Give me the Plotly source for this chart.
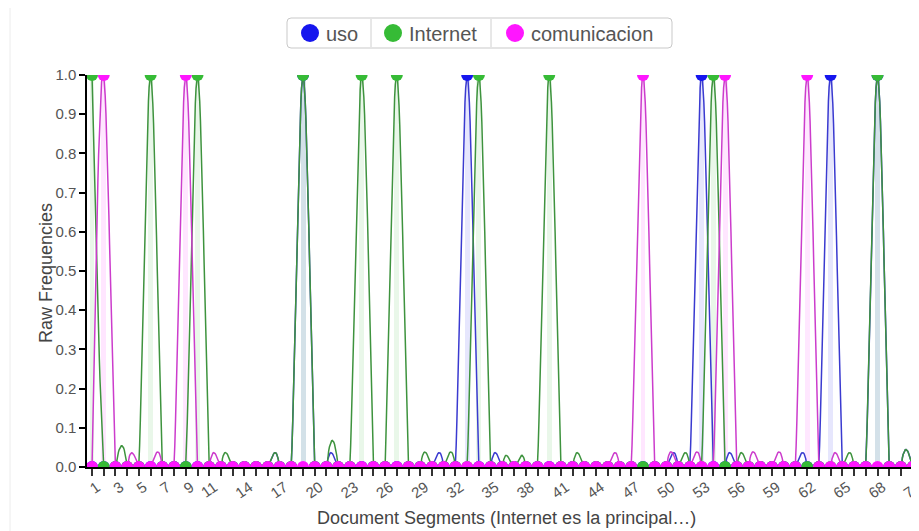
import numpy as np
import plotly.graph_objects as go

# ---- data ----
segments = list(range(1, 72))
uso_peaks = [19, 33, 53, 64, 68]
internet_peaks = [1, 6, 10, 19, 24, 27, 34, 40, 54, 68]
comunicacion_peaks = [2, 9, 48, 55, 62]

uso = [1 if s in uso_peaks else 0 for s in segments]
internet = [1 if s in internet_peaks else 0 for s in segments]
comunicacion = [1 if s in comunicacion_peaks else 0 for s in segments]

tick_vals = [1, 3, 5, 7, 9, 11, 14, 17, 20, 23, 26, 29, 32, 35, 38, 41, 44, 47,
             50, 53, 56, 59, 62, 65, 68, 71]
series_names = ["uso", "Internet", "comunicacion"]
marker_colors = ["#1616ee", "#36bb36", "#ff16ff"]
line_colors = ["#3a3ad0", "#3e933e", "#cc3ccc"]
series_values = [uso, internet, comunicacion]


def natural_spline(xs, ys, per=16):
    """Render helper: natural cubic spline path (like d3.curveNatural)."""
    xs = np.asarray(xs, float)
    ys = np.asarray(ys, float)
    n = len(ys)
    A = np.zeros((n, n))
    rhs = np.zeros(n)
    A[0, 0] = 1
    A[-1, -1] = 1
    for i in range(1, n - 1):
        A[i, i - 1] = 1
        A[i, i] = 4
        A[i, i + 1] = 1
        rhs[i] = 6 * (ys[i - 1] - 2 * ys[i] + ys[i + 1])
    M = np.linalg.solve(A, rhs)
    px, py = [], []
    t = np.linspace(0, 1, per, endpoint=False)
    for i in range(n - 1):
        u = 1 - t
        yy = u * ys[i] + t * ys[i + 1] + (u ** 3 - u) * M[i] / 6 + (t ** 3 - t) * M[i + 1] / 6
        px.extend(xs[i] + t * (xs[i + 1] - xs[i]))
        py.extend(yy)
    px.append(xs[-1])
    py.append(ys[-1])
    return px, py


# ---- layout geometry (page pixels; the page body adds an 8px offset) ----
W, H = 911, 523
ML, MR, MT, MB = 79, 0, 67, 64
PX0 = 8 + ML           # plot-area left, page px
PY1 = 8 + H - MB       # plot-area bottom, page px
PW = W - ML - MR
PH = H - MT - MB


def pxx(px):
    return (px - PX0) / PW


def pyy(py):
    return (PY1 - py) / PH


fig = go.Figure()

# light columns behind the lines
for vals, mcol in zip(series_values, marker_colors):
    fig.add_trace(go.Bar(x=segments, y=vals, width=0.42, marker=dict(color=mcol, line=dict(width=0)),
                         opacity=0.10, showlegend=False, hoverinfo="skip"))

for name, vals, mcol, lcol in zip(series_names, series_values, marker_colors, line_colors):
    sx, sy = natural_spline(segments, vals)
    fig.add_trace(go.Scatter(x=sx, y=sy, mode="lines", line=dict(color=lcol, width=1.5),
                             showlegend=False, hoverinfo="skip", cliponaxis=True))
    fig.add_trace(go.Scatter(x=segments, y=vals, mode="markers", name=name,
                             marker=dict(color=mcol, size=12, line=dict(width=0)),
                             showlegend=False, cliponaxis=True))

font_family = "Liberation Sans, Arial, sans-serif"

shapes = []
annotations = []

# faint panel border on the left
shapes.append(dict(type="line", xref="paper", yref="paper", x0=pxx(10), x1=pxx(10),
                   y0=pyy(0), y1=pyy(531), line=dict(color="#ececec", width=1), layer="below"))

# legend box (rounded) with dividers
bx0, bx1, by0, by1, r = 287, 672, 18, 48, 4
path = (f"M {pxx(bx0 + r)},{pyy(by0)} L {pxx(bx1 - r)},{pyy(by0)} "
        f"Q {pxx(bx1)},{pyy(by0)} {pxx(bx1)},{pyy(by0 + r)} "
        f"L {pxx(bx1)},{pyy(by1 - r)} Q {pxx(bx1)},{pyy(by1)} {pxx(bx1 - r)},{pyy(by1)} "
        f"L {pxx(bx0 + r)},{pyy(by1)} Q {pxx(bx0)},{pyy(by1)} {pxx(bx0)},{pyy(by1 - r)} "
        f"L {pxx(bx0)},{pyy(by0 + r)} Q {pxx(bx0)},{pyy(by0)} {pxx(bx0 + r)},{pyy(by0)} Z")
shapes.append(dict(type="path", xref="paper", yref="paper", path=path,
                   line=dict(color="#c9c9c9", width=1), fillcolor="white"))
for dx in [371, 491]:
    shapes.append(dict(type="line", xref="paper", yref="paper", x0=pxx(dx), x1=pxx(dx),
                       y0=pyy(by0 + 1), y1=pyy(by1 - 1), line=dict(color="#d0d0d0", width=1)))

legend_circle_x = [310, 393, 515]
legend_text_x = [324, 407, 529]
cy = 33
for name, mcol, cx, tx in zip(series_names, marker_colors, legend_circle_x, legend_text_x):
    shapes.append(dict(type="circle", xref="paper", yref="paper", xsizemode="pixel", ysizemode="pixel",
                       xanchor=pxx(cx), yanchor=pyy(cy), x0=-9, x1=9, y0=-9, y1=9,
                       fillcolor=mcol, line=dict(width=0)))
    annotations.append(dict(text=name, xref="paper", yref="paper", x=pxx(tx), y=pyy(cy + 1),
                            xanchor="left", yanchor="middle", showarrow=False,
                            font=dict(size=20, color="#555", family=font_family)))

# axis titles
annotations.append(dict(text="Raw Frequencies", xref="paper", yref="paper", x=pxx(46), y=pyy(273),
                        xanchor="center", yanchor="middle", textangle=-90, showarrow=False,
                        font=dict(size=18, color="#444", family=font_family)))
annotations.append(dict(text="Document Segments (Internet es la principal…)", xref="paper", yref="paper",
                        x=pxx(506), y=pyy(518), xanchor="center", yanchor="middle", showarrow=False,
                        font=dict(size=18, color="#444", family=font_family)))

fig.update_layout(
    width=W, height=H,
    margin=dict(l=ML, r=MR, t=MT, b=MB, autoexpand=False),
    paper_bgcolor="white", plot_bgcolor="white",
    barmode="overlay", bargap=0, showlegend=False,
    font=dict(family=font_family, color="#555", size=15),
    shapes=shapes, annotations=annotations,
    xaxis=dict(range=[0.573, 71.54], tickmode="array", tickvals=segments,
               ticktext=[str(s) if s in tick_vals else "" for s in segments],
               tickangle=-35, ticks="outside", ticklen=7, tickcolor="#333", tickwidth=1.5,
               ticklabelshift=5, ticklabelstandoff=-3, ticklabeloverflow="allow",
               showline=True, linecolor="#000", linewidth=1.5, showgrid=False, zeroline=False,
               layer="below traces",
               automargin=False, tickfont=dict(size=15, color="#555")),
    yaxis=dict(range=[0, 1], dtick=0.1, tickformat=".1f", ticks="outside", ticklen=6,
               tickcolor="#000", tickwidth=1.5, showline=True, linecolor="#000", linewidth=1.5,
               showgrid=False, zeroline=False, automargin=False,
               tickfont=dict(size=15, color="#555")),
)

fig.write_html("out.html")
